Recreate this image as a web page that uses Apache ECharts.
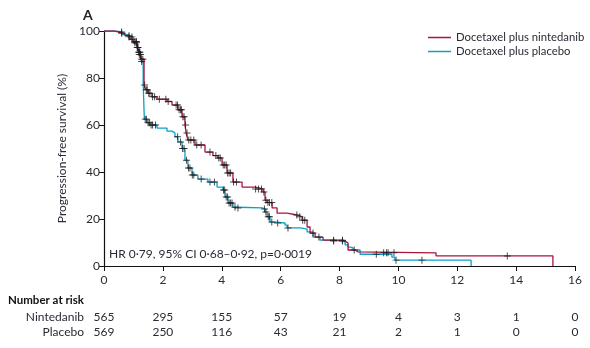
<!DOCTYPE html>
<html>
<head>
<meta charset="utf-8">
<script src="https://cdn.jsdelivr.net/npm/echarts@6/dist/echarts.min.js"></script>
<style>
  html, body { margin: 0; padding: 0; background: #fff; }
  #chart { width: 590px; height: 348px; }
</style>
</head>
<body>
<div id="chart"></div>
<script>
// Kaplan-Meier step curves: event times (months) and survival (%)
const ninTimes = [0, 0.37, 0.54, 0.71, 0.88, 0.99, 1.12, 1.17, 1.24, 1.36, 1.42, 1.5, 1.63, 1.8, 2.14, 2.31, 2.51, 2.65, 2.75, 2.79, 2.85, 3.09, 3.43, 3.7, 3.87, 4.01, 4.18, 4.38, 4.69, 5.13, 5.4, 5.47, 5.54, 5.71, 5.88, 6.22, 6.56, 6.73, 6.9, 7.0, 7.17, 7.44, 8.12, 8.19, 8.29, 8.53, 8.63, 11.28, 15.25];
const ninSurv  = [100, 99.4, 99, 98, 96.5, 95, 93, 91, 88, 77, 75, 73.5, 72, 71, 70, 68.5, 66.5, 63.5, 60, 56.6, 53.6, 51.5, 48.5, 47, 46, 43, 39.6, 35.7, 33.6, 32.8, 31.5, 28, 27, 24.7, 22.5, 21.7, 21, 19.5, 16.6, 14, 12.3, 11, 10.6, 9.8, 6.8, 6, 5.6, 4.3, 0];

const plaTimes = [0, 0.37, 0.61, 0.82, 0.99, 1.12, 1.19, 1.26, 1.33, 1.37, 1.46, 1.56, 1.8, 2.14, 2.31, 2.41, 2.51, 2.65, 2.75, 2.85, 2.99, 3.19, 3.53, 3.84, 4.04, 4.11, 4.21, 4.38, 4.55, 5.37, 5.47, 5.54, 5.64, 5.81, 6.15, 6.22, 6.66, 6.9, 7.1, 7.34, 7.78, 8.12, 8.19, 8.29, 8.36, 8.46, 8.7, 9.78, 9.88, 12.47];
const plaSurv  = [100, 99.6, 98.5, 97.5, 95.5, 93, 90, 87, 78, 62.5, 61, 60, 58.7, 57.4, 56.6, 55, 52.8, 50, 45, 41.7, 38.7, 37, 35.7, 33.6, 32.3, 29.4, 26.8, 25, 24.7, 24.3, 23, 21, 18.7, 18.3, 17.4, 16.2, 15.7, 14.5, 12.3, 11, 10.6, 10.2, 9, 8, 7.7, 6.8, 5, 3.8, 2.5, 0];

// Censoring times (months)
const ninCensor = [0.6, 0.85, 0.95, 1.05, 1.1, 1.13, 1.15, 1.18, 1.2, 1.22, 1.28, 1.32, 1.38, 1.44, 1.47, 1.52, 1.56, 1.65, 1.72, 1.88, 2.1, 2.18, 2.45, 2.5, 2.55, 2.6, 2.63, 2.68, 2.72, 2.77, 2.82, 2.88, 2.95, 3.05, 3.15, 3.3, 3.6, 3.8, 3.9, 3.95, 4.05, 4.1, 4.15, 4.2, 4.25, 4.3, 4.4, 4.5, 5.15, 5.25, 5.35, 5.43, 5.5, 5.57, 5.62, 5.7, 6.55, 6.65, 6.75, 6.82, 7.1, 7.3, 7.8, 8.1, 9.5, 9.6, 9.65, 9.85, 13.7];
const plaCensor = [0.6, 0.85, 0.95, 1.05, 1.1, 1.15, 1.2, 1.24, 1.28, 1.4, 1.44, 1.5, 1.55, 1.6, 1.65, 1.75, 2.5, 2.6, 2.67, 2.72, 2.8, 2.87, 2.92, 3.0, 3.05, 3.3, 3.6, 3.75, 4.06, 4.1, 4.15, 4.2, 4.25, 4.3, 4.35, 4.45, 4.55, 5.45, 5.5, 5.58, 5.62, 5.7, 5.9, 6.25, 7.8, 8.1, 8.5, 9.25, 9.92, 10.8];

// Axis ticks and numbers at risk
const xTicks = [0, 2, 4, 6, 8, 10, 12, 14, 16];
const riskNintedanib = [565, 295, 155, 57, 19, 4, 3, 1, 0];
const riskPlacebo    = [569, 250, 116, 43, 21, 2, 1, 0, 0];

const seriesNames = ['Docetaxel plus nintedanib', 'Docetaxel plus placebo'];
const hrText = 'HR 0\u00b779, 95% CI 0\u00b768\u20130\u00b792, p=0\u00b70019';

const RED = '#a8153d';
const BLUE = '#0aa0c8';
const TEXT = '#2a2a35';
const FONT = 'Lato, "Liberation Sans", sans-serif';

function pairs(ts, vs) { return ts.map((t, i) => [t, vs[i]]); }
function survAt(ts, vs, t) {
  let s = vs[0];
  for (let i = 0; i < ts.length; i++) { if (ts[i] <= t) s = vs[i]; else break; }
  return s;
}
function censorPoints(cs, ts, vs) { return cs.map(t => [t, survAt(ts, vs, t)]); }

const plusPath = 'path://M-0.7,-5H0.7V-0.7H5V0.7H0.7V5H-0.7V0.7H-5V-0.7H-0.7Z';

const chart = echarts.init(document.getElementById('chart'), null, { renderer: 'canvas' });

const option = {
  animation: false,
  backgroundColor: '#fff',
  textStyle: { fontFamily: FONT },
  grid: { left: 104, right: 15, top: 31, bottom: 82 },
  legend: {
    data: seriesNames,
    orient: 'vertical',
    left: 423,
    top: 27,
    itemGap: 3,
    itemWidth: 23,
    itemHeight: 1.5,
    icon: 'rect',
    textStyle: { fontFamily: FONT, fontSize: 11.3, color: TEXT }
  },
  xAxis: {
    type: 'value', min: 0, max: 16, interval: 2,
    axisLine: { lineStyle: { color: '#111', width: 1.2 } },
    axisTick: { show: true, length: 5, lineStyle: { color: '#111' } },
    axisLabel: { color: TEXT, fontSize: 12, fontFamily: FONT, margin: 8 },
    splitLine: { show: false }
  },
  yAxis: {
    type: 'value', min: 0, max: 100, interval: 20,
    name: 'Progression-free survival (%)',
    nameLocation: 'middle', nameGap: 36, nameRotate: 90,
    nameTextStyle: { color: TEXT, fontSize: 12, fontFamily: FONT },
    axisLine: { show: true, lineStyle: { color: '#111', width: 1.2 } },
    axisTick: { show: true, length: 5, lineStyle: { color: '#111' } },
    axisLabel: { color: TEXT, fontSize: 12, fontFamily: FONT, margin: 4 },
    splitLine: { show: false }
  },
  series: [
    {
      name: seriesNames[1], type: 'line', step: 'end', showSymbol: false, symbol: 'none',
      data: pairs(plaTimes, plaSurv), color: BLUE,
      lineStyle: { color: BLUE, width: 1.3 }, z: 2, silent: true
    },
    {
      name: seriesNames[0], type: 'line', step: 'end', showSymbol: false, symbol: 'none',
      data: pairs(ninTimes, ninSurv), color: RED,
      lineStyle: { color: RED, width: 1.3 }, z: 3, silent: true
    },
    {
      name: 'censor-placebo', type: 'scatter', symbol: plusPath, symbolSize: 7,
      data: censorPoints(plaCensor, plaTimes, plaSurv),
      itemStyle: { color: '#1b1b1b' }, z: 5, silent: true
    },
    {
      name: 'censor-nintedanib', type: 'scatter', symbol: plusPath, symbolSize: 7,
      data: censorPoints(ninCensor, ninTimes, ninSurv),
      itemStyle: { color: '#1b1b1b' }, z: 5, silent: true
    }
  ]
};

chart.setOption(option);

// Panel letter, hazard ratio note and the numbers-at-risk table
const graphics = [
  { type: 'text', left: 83, top: 8, style: { text: 'A', fill: '#222', font: 'bold 14px ' + FONT } },
  { type: 'text', x: 109, y: 254, style: { text: hrText, fill: TEXT, font: '12px ' + FONT, textVerticalAlign: 'middle' } },
  { type: 'text', x: 8, y: 300, style: { text: 'Number at risk', fill: '#111', font: 'bold 11.5px ' + FONT, textVerticalAlign: 'middle' } },
  { type: 'text', x: 84, y: 317, style: { text: 'Nintedanib', fill: TEXT, font: '12px ' + FONT, textAlign: 'right', textVerticalAlign: 'middle' } },
  { type: 'text', x: 84, y: 332, style: { text: 'Placebo', fill: TEXT, font: '12px ' + FONT, textAlign: 'right', textVerticalAlign: 'middle' } }
];
xTicks.forEach((t, i) => {
  const px = chart.convertToPixel({ xAxisIndex: 0 }, t);
  graphics.push({ type: 'text', x: px, y: 317, style: { text: String(riskNintedanib[i]), fill: TEXT, font: '12px ' + FONT, textAlign: 'center', textVerticalAlign: 'middle' } });
  graphics.push({ type: 'text', x: px, y: 332, style: { text: String(riskPlacebo[i]), fill: TEXT, font: '12px ' + FONT, textAlign: 'center', textVerticalAlign: 'middle' } });
});
chart.setOption({ graphic: graphics });
</script>
</body>
</html>
